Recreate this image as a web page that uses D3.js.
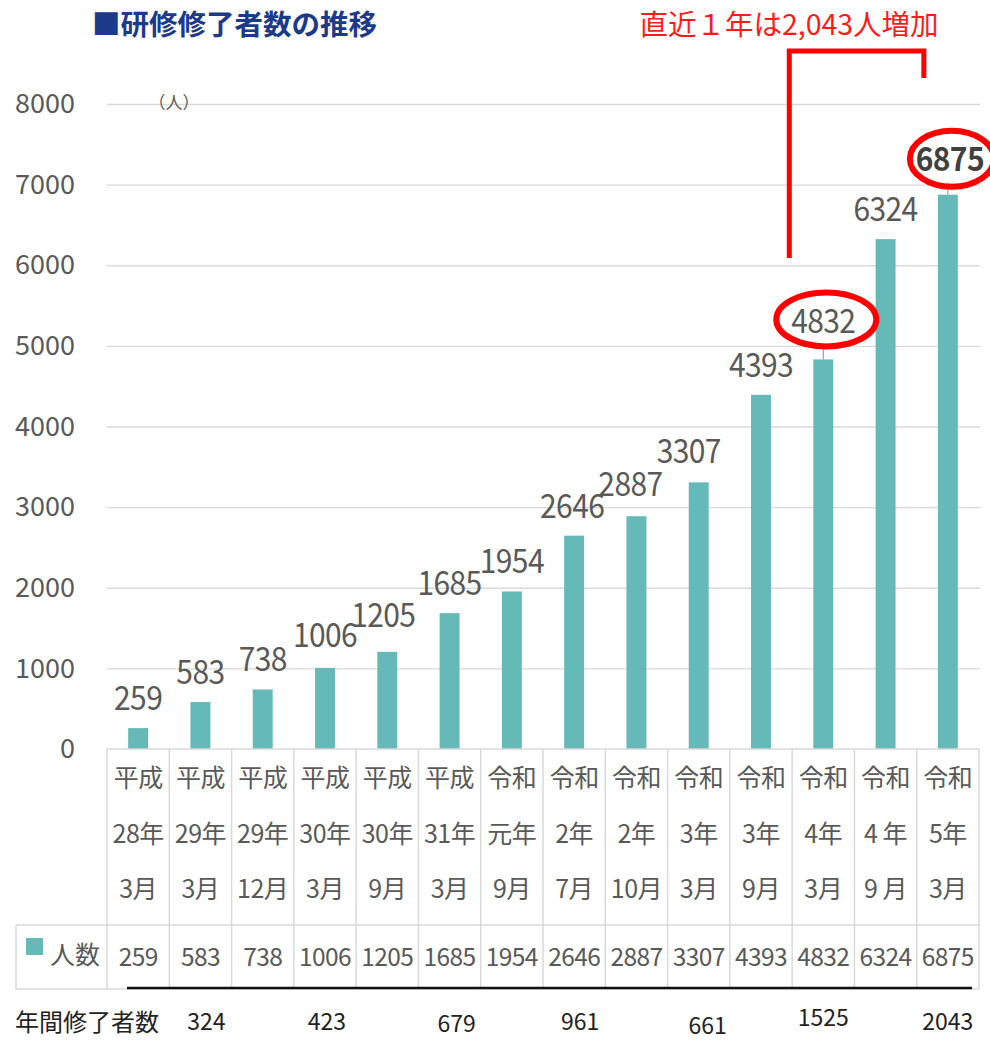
<!DOCTYPE html>
<html><head><meta charset="utf-8">
<script src="https://cdn.jsdelivr.net/npm/d3@7"></script>
<style>
html,body{margin:0;padding:0;background:#fff;}
svg{display:block;font-family:"Noto Sans CJK JP","Noto Sans",sans-serif;}
</style></head>
<body><svg id="chart" width="990" height="1048"></svg>
<script>
// ---- data ----
const eraLabels   = ["平成","平成","平成","平成","平成","平成","令和","令和","令和","令和","令和","令和","令和","令和"];
const yearLabels  = ["28年","29年","29年","30年","30年","31年","元年","2年","2年","3年","3年","4年","4 年","5年"];
const monthLabels = ["3月","3月","12月","3月","9月","3月","9月","7月","10月","3月","9月","3月","9 月","3月"];
const graduates   = [259,583,738,1006,1205,1685,1954,2646,2887,3307,4393,4832,6324,6875];
const yTicks      = [0,1000,2000,3000,4000,5000,6000,7000,8000];
const annualIndex = [1,3,5,7,9,11,13];
const annualValues= [324,423,679,961,661,1525,2043];
const highlightIndex = [11,13];
const seriesName = "人数";
const title = "■研修修了者数の推移";
const annotation = "直近１年は2,043人増加";
const unitLabel = "（人）";
const annualLabel = "年間修了者数";

// ---- layout / style (not data) ----
const pLeft = 107, pRight = 979, pTop = 104, pBase = 749;
const catBottom = 925, valBottom = 989, legendLeft = 16;
const teal = "#65b9b6", grid = "#d9d9d9", txt = "#595959";
const labelNudge = [[0,0],[0,0],[0,0],[0,-3],[-4,-7],[0,0],[0,0],[-2,0],[-6,-2],[-10,-1],[0,0],[0,-8],[0,0],[2,-6]];
const annualNudge = [[6,0],[2,0],[7,2],[6,0],[9,4],[0,-4],[0,0]];

const svg = d3.select("#chart");
const idx = d3.range(graduates.length);
const x = d3.scaleBand().domain(idx).range([pLeft, pRight]).padding(0);
const y = d3.scaleLinear().domain([0, 8000]).range([pBase, pTop]);
const bw = x.bandwidth() * 0.32;
const cx = i => x(i) + x.bandwidth() / 2;

// gridlines
svg.append("g").attr("transform", `translate(${pLeft},0)`)
  .call(d3.axisLeft(y).tickValues(yTicks.filter(v => v > 0)).tickSize(-(pRight - pLeft + 1)).tickFormat(""))
  .call(g => g.select(".domain").remove())
  .call(g => g.selectAll("line").attr("stroke", grid).attr("stroke-width", 1.3));

// y axis labels
svg.append("g").attr("transform", `translate(${pLeft},0)`)
  .call(d3.axisLeft(y).tickValues(yTicks).tickSize(0).tickPadding(32).tickFormat(d3.format("d")))
  .call(g => g.select(".domain").remove())
  .call(g => g.selectAll("text").attr("fill", txt).attr("font-size", 27).attr("font-family", "Noto Sans CJK JP"));

svg.append("text").attr("x", 174).attr("y", y(8000) + 5).attr("text-anchor", "middle")
  .attr("font-size", 17).attr("fill", txt).text(unitLabel);

// bars
svg.append("g").selectAll("rect").data(graduates).join("rect")
  .attr("x", (d, i) => cx(i) - bw / 2).attr("width", bw)
  .attr("y", d => y(d)).attr("height", d => pBase - y(d))
  .attr("fill", teal);

// leader lines for highlighted
highlightIndex.forEach(i => {
  svg.append("line").attr("x1", cx(i)).attr("x2", cx(i))
    .attr("y1", y(graduates[i])).attr("y2", y(graduates[i]) - 12)
    .attr("stroke", "#8c8c8c").attr("stroke-width", 1);
});

// value labels
svg.append("g").selectAll("text").data(graduates).join("text")
  .attr("transform", (d, i) => `translate(${cx(i) + labelNudge[i][0]},${y(d) - 18 + labelNudge[i][1]}) scale(1,1.1)`)
  .attr("text-anchor", "middle").attr("font-size", 30)
  .attr("font-weight", (d, i) => i === 13 ? "bold" : "normal")
  .attr("fill", (d, i) => i === 13 ? "#404040" : txt)
  .attr("letter-spacing", -0.6)
  .text(d => d);

// red ellipses
const ell = [[0, 8, 50, 27], [1, 10, 42, 28]];
highlightIndex.forEach((i, k) => {
  svg.append("ellipse")
    .attr("cx", cx(i) + 3 + ell[k][0]).attr("cy", y(graduates[i]) - 40 + labelNudge[i][1] + ell[k][1])
    .attr("rx", ell[k][2]).attr("ry", ell[k][3])
    .attr("fill", "none").attr("stroke", "#ff0000").attr("stroke-width", 6);
});

// bracket
const bx1 = cx(11) - 34, bx2 = cx(13) - 24, by = 51;
svg.append("path")
  .attr("d", `M${bx1},${258}V${by}H${bx2}V${78}`)
  .attr("fill", "none").attr("stroke", "#ff0000").attr("stroke-width", 5);

svg.append("text").attr("x", 789).attr("y", 35).attr("text-anchor", "middle")
  .attr("font-size", 28.5).attr("fill", "#ff1a1a").text(annotation);

// title
svg.append("text").attr("x", 92).attr("y", 35).attr("font-size", 28.5).attr("font-weight", "bold")
  .attr("fill", "#1c3a8a").text(title);

// ---- table ----
const tg = svg.append("g").attr("stroke", grid).attr("stroke-width", 1.5);
tg.append("line").attr("x1", pLeft).attr("x2", pRight).attr("y1", pBase).attr("y2", pBase);
tg.append("line").attr("x1", legendLeft).attr("x2", pRight).attr("y1", catBottom).attr("y2", catBottom);
tg.append("line").attr("x1", legendLeft).attr("x2", pRight).attr("y1", valBottom).attr("y2", valBottom);
tg.append("line").attr("x1", legendLeft).attr("x2", legendLeft).attr("y1", catBottom).attr("y2", valBottom);
tg.selectAll("line.v").data(d3.range(graduates.length + 1)).join("line").attr("class", "v")
  .attr("x1", i => i < graduates.length ? x(i) : pRight).attr("x2", i => i < graduates.length ? x(i) : pRight)
  .attr("y1", pBase).attr("y2", valBottom);

const rows = [eraLabels, yearLabels, monthLabels];
const rowY = [787, 843, 898];
rows.forEach((arr, r) => {
  svg.append("g").selectAll("text").data(arr).join("text")
    .attr("x", (d, i) => cx(i)).attr("y", rowY[r]).attr("text-anchor", "middle")
    .attr("font-size", 25).attr("letter-spacing", -0.5).attr("fill", txt).text(d => d);
});

svg.append("g").selectAll("text").data(graduates).join("text")
  .attr("x", (d, i) => cx(i)).attr("y", 966).attr("text-anchor", "middle")
  .attr("font-size", 24.5).attr("letter-spacing", -0.6).attr("fill", txt).text(d => d);

// legend cell
svg.append("rect").attr("x", 26).attr("y", 938).attr("width", 17).attr("height", 17).attr("fill", teal);
svg.append("text").attr("x", 50).attr("y", 964).attr("font-size", 25).attr("fill", txt).text(seriesName);

// black line
svg.append("line").attr("x1", 127).attr("x2", 972).attr("y1", 988).attr("y2", 988)
  .attr("stroke", "#111").attr("stroke-width", 2.5);

// annual row
svg.append("text").attr("x", 15).attr("y", 1031).attr("font-size", 24).attr("fill", "#222").text(annualLabel);
svg.append("g").selectAll("text").data(annualValues).join("text")
  .attr("x", (d, k) => cx(annualIndex[k]) + annualNudge[k][0])
  .attr("y", (d, k) => 1030 + annualNudge[k][1])
  .attr("text-anchor", "middle").attr("font-size", 23).attr("fill", "#222").text(d => d);
</script></body></html>
